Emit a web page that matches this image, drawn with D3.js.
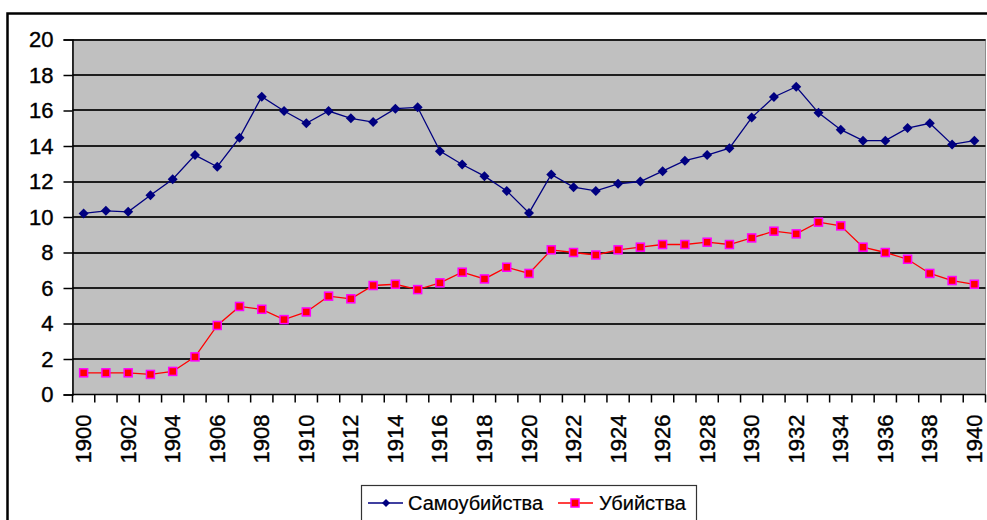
<!DOCTYPE html>
<html lang="ru">
<head>
    <meta charset="UTF-8">
    <title>Самоубийства и убийства, 1900-1940</title>
    <style>
        body { margin: 0; background: #fff; }
        svg { display: block; font-family: "Liberation Sans", Arial, sans-serif; }
    </style>
</head>
<body>
    <div id="chart"></div>
    <script src="https://d3js.org/d3.v7.min.js"></script>
    <script>
        // Data
        var years = d3.range(1900, 1941);
        var suicides = [10.2, 10.35, 10.29, 11.23, 12.13, 13.49, 12.83, 14.47, 16.78, 15.97,
                        15.28, 15.97, 15.56, 15.35, 16.1, 16.18, 13.71, 12.96, 12.3, 11.47,
                        10.23, 12.4, 11.68, 11.47, 11.87, 12.0, 12.58, 13.17, 13.49, 13.88,
                        15.6, 16.76, 17.34, 15.87, 14.92, 14.3, 14.3, 15.01, 15.28, 14.09, 14.3];
        var murders = [1.22, 1.22, 1.22, 1.13, 1.3, 2.12, 3.89, 4.96, 4.8, 4.22,
                       4.65, 5.54, 5.39, 6.14, 6.21, 5.91, 6.29, 6.89, 6.51, 7.17,
                       6.82, 8.15, 8.0, 7.86, 8.15, 8.3, 8.45, 8.45, 8.58, 8.45,
                       8.82, 9.2, 9.05, 9.71, 9.5, 8.3, 8.0, 7.62, 6.82, 6.42, 6.21];
        var yTicks = [0, 2, 4, 6, 8, 10, 12, 14, 16, 18, 20];
        var seriesNames = ["Самоубийства", "Убийства"];

        var width = 987, height = 520;
        var plot = { left: 72.5, right: 985.5, top: 39.5, bottom: 394.5 };

        var svg = d3.select("#chart").append("svg")
            .attr("width", width)
            .attr("height", height);

        // outer chart frame (only left and top edges are visible)
        svg.append("rect")
            .attr("x", 7.5).attr("y", 13.5)
            .attr("width", 1000).attr("height", 540)
            .attr("fill", "none")
            .attr("stroke", "#000")
            .attr("stroke-width", 2.5);

        var x = d3.scaleBand()
            .domain(years)
            .range([plot.left, plot.right])
            .padding(0);

        var y = d3.scaleLinear()
            .domain([0, 20])
            .range([plot.bottom, plot.top]);

        // plot background
        svg.append("rect")
            .attr("x", plot.left).attr("y", plot.top)
            .attr("width", plot.right - plot.left)
            .attr("height", plot.bottom - plot.top)
            .attr("fill", "#c0c0c0")
            .attr("stroke", "#8c8c8c")
            .attr("stroke-width", 1);

        // gridlines
        svg.append("g")
            .selectAll("line")
            .data(yTicks.filter(function(d) { return d > 0; }))
            .enter().append("line")
            .attr("x1", plot.left).attr("x2", plot.right)
            .attr("y1", function(d) { return Math.round(y(d)); })
            .attr("y2", function(d) { return Math.round(y(d)); })
            .attr("stroke", "#1e1e1e")
            .attr("stroke-width", 2);

        // y axis
        var yAxis = svg.append("g")
            .attr("transform", "translate(" + plot.left + ",0)")
            .call(d3.axisLeft(y).tickValues(yTicks).tickSize(9).tickPadding(10));
        yAxis.select(".domain").attr("stroke", "#000").attr("stroke-width", 1.5);
        yAxis.selectAll(".tick line").attr("stroke", "#000").attr("stroke-width", 1.5);
        yAxis.selectAll("text")
            .attr("font-size", "22px")
            .attr("fill", "#000")
            .attr("stroke", "#000")
            .attr("stroke-width", 0.4)
            .attr("font-family", "'Liberation Sans', Arial, sans-serif");

        // x axis: ticks on band boundaries, labels every other year
        var xAxisG = svg.append("g");
        xAxisG.append("line")
            .attr("x1", plot.left).attr("x2", plot.right)
            .attr("y1", plot.bottom).attr("y2", plot.bottom)
            .attr("stroke", "#000").attr("stroke-width", 1.5);
        xAxisG.selectAll("line.tk")
            .data(years.concat([1941]))
            .enter().append("line")
            .attr("class", "tk")
            .attr("x1", function(d) { return d === 1941 ? plot.right : x(d); })
            .attr("x2", function(d) { return d === 1941 ? plot.right : x(d); })
            .attr("y1", plot.bottom).attr("y2", plot.bottom + 8)
            .attr("stroke", "#000").attr("stroke-width", 1.5);
        xAxisG.selectAll("text")
            .data(years.filter(function(d) { return d % 2 === 0; }))
            .enter().append("text")
            .attr("transform", function(d) {
                return "translate(" + (x(d) + x.bandwidth() / 2 + 7.5) + "," + (plot.bottom + 20) + ") rotate(-90)";
            })
            .attr("text-anchor", "end")
            .attr("font-size", "22px")
            .attr("fill", "#000")
            .attr("stroke", "#000")
            .attr("stroke-width", 0.4)
            .text(function(d) { return d; });

        var line = d3.line()
            .x(function(d, i) { return x(years[i]) + x.bandwidth() / 2; })
            .y(function(d) { return y(d); });

        // Самоубийства
        svg.append("path")
            .datum(suicides)
            .attr("d", line)
            .attr("fill", "none")
            .attr("stroke", "#000080")
            .attr("stroke-width", 1.3);
        var diamond = d3.symbol().type(d3.symbolSquare).size(50);
        svg.append("g").selectAll("path")
            .data(suicides)
            .enter().append("path")
            .attr("d", diamond)
            .attr("transform", function(d, i) {
                return "translate(" + (x(years[i]) + x.bandwidth() / 2) + "," + y(d) + ") rotate(45)";
            })
            .attr("fill", "#000080");

        // Убийства
        svg.append("path")
            .datum(murders)
            .attr("d", line)
            .attr("fill", "none")
            .attr("stroke", "#ff0000")
            .attr("stroke-width", 1.3);
        svg.append("g").selectAll("rect")
            .data(murders)
            .enter().append("rect")
            .attr("x", function(d, i) { return x(years[i]) + x.bandwidth() / 2 - 4; })
            .attr("y", function(d) { return y(d) - 4; })
            .attr("width", 8).attr("height", 8)
            .attr("fill", "#ff0000")
            .attr("stroke", "#ff00ff")
            .attr("stroke-width", 1.5);

        // legend
        var legend = svg.append("g");
        legend.append("rect")
            .attr("x", 361.5).attr("y", 485.5)
            .attr("width", 335).attr("height", 40)
            .attr("fill", "#fff")
            .attr("stroke", "#333")
            .attr("stroke-width", 1.2);

        var ly = 503;
        legend.append("line")
            .attr("x1", 368).attr("x2", 403).attr("y1", ly).attr("y2", ly)
            .attr("stroke", "#000080").attr("stroke-width", 1.3);
        legend.append("path")
            .attr("d", d3.symbol().type(d3.symbolSquare).size(32))
            .attr("transform", "translate(386," + ly + ") rotate(45)")
            .attr("fill", "#000080");
        legend.append("text")
            .attr("x", 408).attr("y", ly + 7)
            .attr("font-size", "20px")
            .attr("fill", "#000")
            .attr("stroke", "#000")
            .attr("stroke-width", 0.2)
            .text(seriesNames[0]);

        legend.append("line")
            .attr("x1", 558).attr("x2", 593).attr("y1", ly).attr("y2", ly)
            .attr("stroke", "#ff0000").attr("stroke-width", 1.3);
        legend.append("rect")
            .attr("x", 571).attr("y", ly - 4)
            .attr("width", 8).attr("height", 8)
            .attr("fill", "#ff0000")
            .attr("stroke", "#ff00ff")
            .attr("stroke-width", 1.5);
        legend.append("text")
            .attr("x", 599).attr("y", ly + 7)
            .attr("font-size", "20px")
            .attr("fill", "#000")
            .attr("stroke", "#000")
            .attr("stroke-width", 0.2)
            .text(seriesNames[1]);
    </script>
</body>
</html>
